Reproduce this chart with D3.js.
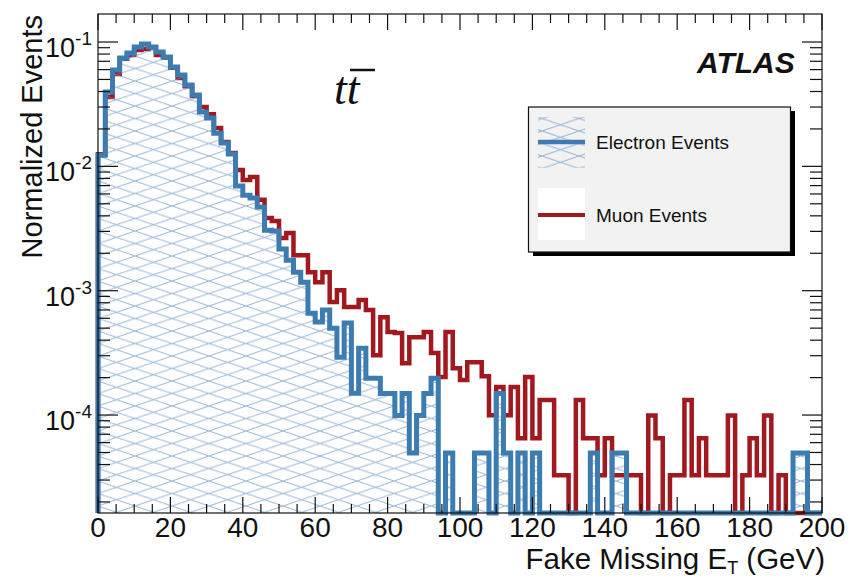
<!DOCTYPE html>
<html lang="en">
  <head>
    <meta charset="UTF-8" />
    <title>Fake Missing ET - ttbar</title>
    <style>
      html, body {
        margin: 0;
        background: #fff;
      }
      #chart {
        width: 850px;
        height: 578px;
      }
      text {
        font-family: "Liberation Sans", Arial, Helvetica, sans-serif;
        fill: #111;
      }
    </style>
    <script src="https://cdn.jsdelivr.net/npm/d3@7"></script>
  </head>
  <body>
    <div id="chart"></div>
    <script>
      // 100 bins of 2 GeV, 0 - 200 GeV
      const binEdges = d3.range(0, 202, 2);

      // normalized counts (0 = empty bin)
      const electronEvents = [
        0.0123, 0.0396, 0.0596, 0.0743, 0.0815, 0.0912, 0.0964, 0.0912, 0.0832, 0.0757,
        0.063, 0.0542, 0.0451, 0.0375, 0.0274, 0.0245, 0.0185, 0.0154, 0.0126, 0.00694,
        0.00587, 0.00556, 0.00471, 0.00307, 0.00302, 0.00216, 0.00176, 0.00141, 0.00117, 0.00066,
        0.000559, 0.000698, 0.0005, 0.000292, 0.000549, 0.00015, 0.000345, 0.000198, 0.000198, 0.000149,
        0.000149, 0.000099, 0.000149, 0.0000495, 0.000099, 0.000149, 0.000198, 0, 0.0000495, 0,
        0, 0, 0.0000495, 0.0000495, 0, 0.000149, 0.0000495, 0, 0.0000495, 0,
        0.0000495, 0, 0, 0, 0, 0, 0, 0, 0.0000495, 0,
        0, 0.0000495, 0.0000495, 0, 0, 0, 0, 0, 0, 0,
        0, 0, 0, 0, 0, 0, 0, 0, 0, 0,
        0, 0, 0, 0, 0, 0, 0.0000495, 0.0000495, 0, 0
      ];
      const muonEvents = [
        0.0125, 0.0361, 0.0553, 0.0735, 0.0786, 0.0862, 0.088, 0.0905, 0.0786, 0.075,
        0.062, 0.0513, 0.044, 0.0368, 0.03, 0.0263, 0.0203, 0.0157, 0.0128, 0.00933,
        0.00776, 0.0082, 0.0054, 0.00384, 0.00363, 0.00265, 0.00291, 0.00193, 0.00193, 0.00141,
        0.00117, 0.00141, 0.00081, 0.00101, 0.000738, 0.000738, 0.00084, 0.000698, 0.000303, 0.000613,
        0.000465, 0.000456, 0.000261, 0.000423, 0.000423, 0.000465, 0.000315, 0.000202, 0.000465, 0.000238,
        0.000191, 0.000266, 0.000266, 0.000205, 0.0000998, 0.000168, 0.0000998, 0.000168, 0.0000652, 0.000202,
        0.0000652, 0.000132, 0.000132, 0.0000328, 0.0000328, 0, 0.000132, 0.0000652, 0.0000652, 0.0000328,
        0.0000652, 0.0000328, 0.0000328, 0.0000328, 0.0000328, 0, 0.000099, 0.0000652, 0, 0.0000328,
        0.0000328, 0.000132, 0.0000328, 0.0000652, 0.0000328, 0.0000328, 0.0000328, 0.000099, 0, 0.0000328,
        0.0000652, 0.0000328, 0.000099, 0, 0.0000328, 0, 0, 0, 0, 0
      ];

      const xTickLabels = [0, 20, 40, 60, 80, 100, 120, 140, 160, 180, 200];
      const xMinorStep = 5;
      const yTickExponents = [-4, -3, -2, -1];

      const W = 850, H = 578;
      const blue = "#3d7cb1";
      const red = "#a1181e";

      const svg = d3.select("#chart").append("svg")
        .attr("width", W).attr("height", H);

      const x = d3.scaleLinear().domain([0, 200]).range([98, 822]);
      const y = d3.scaleLog().domain([1.63e-5, 0.168]).range([513, 14]);
      const [yBottom, yTop] = y.range();

      // hatch pattern for the electron histogram
      const defs = svg.append("defs");
      const pat = defs.append("pattern")
        .attr("id", "hatch")
        .attr("patternUnits", "userSpaceOnUse")
        .attr("x", 98).attr("y", 6)
        .attr("width", 37).attr("height", 12.5);
      pat.append("path")
        .attr("d", "M0,0L37,12.5M0,12.5L37,0")
        .attr("stroke", "#6a96c4")
        .attr("stroke-opacity", 0.7)
        .attr("stroke-width", 1)
        .attr("fill", "none");

      function stepPoints(vals) {
        const pts = [[x(binEdges[0]), yBottom]];
        vals.forEach((v, i) => {
          const yy = v > 0 ? y(v) : yBottom;
          pts.push([x(binEdges[i]), yy], [x(binEdges[i + 1]), yy]);
        });
        pts.push([x(binEdges[binEdges.length - 1]), yBottom]);
        return pts;
      }
      const line = d3.line();

      // frame background
      svg.append("rect")
        .attr("x", x(0)).attr("y", yTop)
        .attr("width", x(200) - x(0)).attr("height", yBottom - yTop)
        .attr("fill", "#fff");

      // muon histogram
      svg.append("path")
        .attr("d", line(stepPoints(muonEvents)))
        .attr("fill", "none")
        .attr("stroke", red)
        .attr("stroke-width", 4.5);

      // electron histogram: hatched area + outline
      svg.append("path")
        .attr("d", line(stepPoints(electronEvents)) + "Z")
        .attr("fill", "url(#hatch)")
        .attr("stroke", "none");
      svg.append("path")
        .attr("d", line(stepPoints(electronEvents)))
        .attr("fill", "none")
        .attr("stroke", blue)
        .attr("stroke-width", 5);

      // axes frame and ticks
      const axes = svg.append("g").attr("stroke", "#111").attr("stroke-width", 1.2);
      axes.append("rect")
        .attr("x", x(0)).attr("y", yTop)
        .attr("width", x(200) - x(0)).attr("height", yBottom - yTop)
        .attr("fill", "none");

      const xMinor = d3.range(0, 201, xMinorStep);
      xMinor.forEach(t => {
        const len = xTickLabels.includes(t) ? 16 : 9;
        axes.append("line").attr("x1", x(t)).attr("x2", x(t))
          .attr("y1", yBottom).attr("y2", yBottom - len);
        axes.append("line").attr("x1", x(t)).attr("x2", x(t))
          .attr("y1", yTop).attr("y2", yTop + len);
      });

      y.ticks().forEach(t => {
        const major = Math.abs(Math.log10(t) - Math.round(Math.log10(t))) < 1e-6;
        const len = major ? 20 : 12;
        axes.append("line").attr("x1", x(0)).attr("x2", x(0) + len)
          .attr("y1", y(t)).attr("y2", y(t));
        axes.append("line").attr("x1", x(200)).attr("x2", x(200) - len)
          .attr("y1", y(t)).attr("y2", y(t));
      });

      // x tick labels
      svg.append("g").selectAll("text")
        .data(xTickLabels)
        .join("text")
        .attr("x", d => x(d))
        .attr("y", 537)
        .attr("text-anchor", "middle")
        .attr("font-size", 28)
        .text(d => d);

      // y tick labels 10^n
      const yl = svg.append("g").selectAll("text")
        .data(yTickExponents)
        .join("text")
        .attr("x", 92)
        .attr("y", d => y(Math.pow(10, d)) + 15)
        .attr("text-anchor", "end");
      yl.append("tspan").attr("font-size", 27).text("10");
      yl.append("tspan").attr("font-size", 19).attr("dy", -12).text(d => d);

      // axis titles
      svg.append("text")
        .attr("transform", "translate(42,15) rotate(-90)")
        .attr("text-anchor", "end")
        .attr("font-size", 29)
        .text("Normalized Events");

      const xt = svg.append("text")
        .attr("x", 825).attr("y", 569)
        .attr("text-anchor", "end")
        .attr("font-size", 29.5);
      xt.append("tspan").text("Fake Missing E");
      xt.append("tspan").attr("font-size", 18).attr("dy", 5).text("T");
      xt.append("tspan").attr("dy", -5).text(" (GeV)");

      // ATLAS label
      svg.append("text")
        .attr("x", 697).attr("y", 73)
        .attr("font-size", 30)
        .attr("font-weight", "bold")
        .attr("font-style", "italic")
        .text("ATLAS");

      // t tbar
      const tt = svg.append("text")
        .attr("x", 334).attr("y", 104)
        .attr("font-style", "italic")
        .attr("font-size", 46)
        .style("font-family", "'Liberation Serif', 'Times New Roman', serif");
      tt.append("tspan").text("t");
      tt.append("tspan").text("t");
      svg.append("line")
        .attr("x1", 350).attr("x2", 375)
        .attr("y1", 70).attr("y2", 70)
        .attr("stroke", "#111").attr("stroke-width", 2.5);

      // legend
      const lg = svg.append("g");
      lg.append("rect")
        .attr("x", 533).attr("y", 111).attr("width", 262).attr("height", 145)
        .attr("fill", "#000");
      lg.append("rect")
        .attr("x", 528.5).attr("y", 107).attr("width", 262).attr("height", 145)
        .attr("fill", "#f2f2f2").attr("stroke", "#111").attr("stroke-width", 1.2);

      lg.append("rect")
        .attr("x", 538).attr("y", 117).attr("width", 47).attr("height", 51)
        .attr("fill", "url(#hatch)");
      lg.append("line")
        .attr("x1", 538).attr("x2", 585).attr("y1", 142).attr("y2", 142)
        .attr("stroke", blue).attr("stroke-width", 4.5);
      lg.append("text")
        .attr("x", 596).attr("y", 149)
        .attr("font-size", 19)
        .attr("fill", "#222")
        .text("Electron Events");

      lg.append("rect")
        .attr("x", 538).attr("y", 188).attr("width", 47).attr("height", 52)
        .attr("fill", "#fff");
      lg.append("line")
        .attr("x1", 538).attr("x2", 585).attr("y1", 215).attr("y2", 215)
        .attr("stroke", red).attr("stroke-width", 4);
      lg.append("text")
        .attr("x", 596).attr("y", 222)
        .attr("font-size", 19)
        .attr("fill", "#222")
        .text("Muon Events");
    </script>
  </body>
</html>
